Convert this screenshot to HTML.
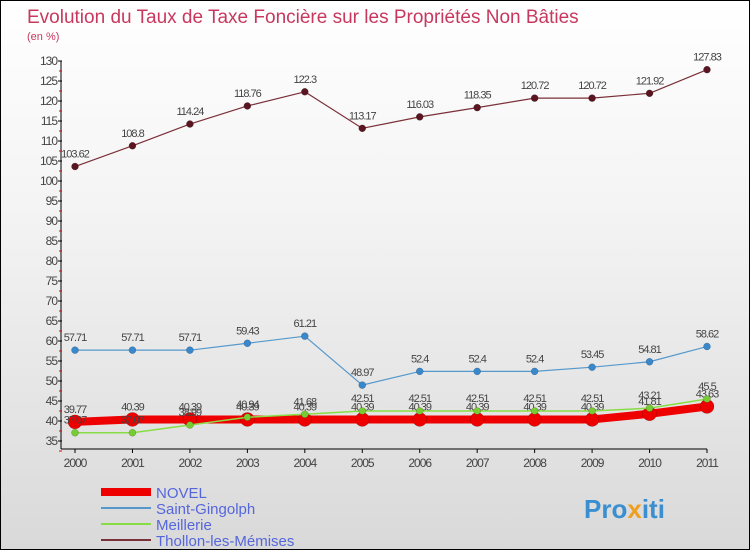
<!DOCTYPE html>
<html><head><meta charset="utf-8"><style>
body{margin:0;width:750px;height:550px;overflow:hidden;font-family:"Liberation Sans",sans-serif}
#wrap{position:relative;width:748px;height:548px;border:1px solid #000;background:linear-gradient(#fff 0%,#f3f3f3 40%,#d9d9d9 100%)}
</style></head><body>
<div id="wrap">
<svg id="chart" width="748" height="548" xmlns="http://www.w3.org/2000/svg">
<text x="26" y="22" font-size="19" fill="#c8385e">Evolution du Taux de Taxe Foncière sur les Propriétés Non Bâties</text>
<text x="26" y="39" font-size="11" fill="#c8385e">(en %)</text>
<g id="axes"></g><g id="series"></g><g id="legend"></g>
<text x="583" y="517" font-size="26" font-weight="bold" fill="#3b8fd0">Pro<tspan fill="#f0a020">x</tspan>iti</text>
</svg></div>
<script>
const years=[2000,2001,2002,2003,2004,2005,2006,2007,2008,2009,2010,2011];
const yTicks=[35,40,45,50,55,60,65,70,75,80,85,90,95,100,105,110,115,120,125,130];
const novel=[39.77,40.39,40.39,40.39,40.39,40.39,40.39,40.39,40.39,40.39,41.81,43.63];
const stGingolph=[57.71,57.71,57.71,59.43,61.21,48.97,52.4,52.4,52.4,53.45,54.81,58.62];
const meillerie=[37.07,37.07,38.99,40.94,41.68,42.51,42.51,42.51,42.51,42.51,43.21,45.5];
const thollon=[103.62,108.8,114.24,118.76,122.3,113.17,116.03,118.35,120.72,120.72,121.92,127.83];
const NS="http://www.w3.org/2000/svg";
const X=i=>74+i*(706-74)/11;
const Y=v=>60+(130-v)*4;
function mk(t,a,p){const e=document.createElementNS(NS,t);for(const k in a)e.setAttribute(k,a[k]);p.appendChild(e);return e;}
const ax=document.getElementById('axes');
let l=mk('line',{x1:60,y1:Y(130),x2:60,y2:448,stroke:'#000'},ax);


l=mk('line',{x1:60,y1:448,x2:X(11),y2:448,stroke:'#000'},ax);


yTicks.forEach(v=>{
 mk('line',{x1:57,y1:Y(v),x2:61,y2:Y(v),stroke:'#000'},ax);
 mk('line',{x1:58,y1:Y(v)+10,x2:61,y2:Y(v)+10,stroke:'#e00'},ax);
 const t=mk('text',{x:56,y:Y(v)+4,'font-size':12,'text-anchor':'end',fill:'#444','letter-spacing':'-1'},ax);
 t.textContent=v;
 
 
});
years.forEach((y,i)=>{
 mk('line',{x1:X(i),y1:448,x2:X(i),y2:452,stroke:'#000'},ax);
 const t=mk('text',{x:X(i),y:466,'font-size':12,'text-anchor':'middle',fill:'#444','letter-spacing':'-1'},ax);
 t.textContent=y;
 
 
});
const sg=document.getElementById('series');
function series(arr,color,w,r,dot,name){
 const g=mk('g',{},sg);
 
 
 mk('polyline',{points:arr.map((v,i)=>X(i)+','+Y(v)).join(' '),fill:'none',stroke:color,'stroke-width':w,'stroke-linejoin':'round'},g);
 arr.forEach((v,i)=>{
  const c=mk('circle',{cx:X(i),cy:Y(v),r:r,fill:dot,stroke:'rgba(0,0,0,0.3)','stroke-width':0.5},g);
  
  
  const t=mk('text',{x:X(i),y:Y(v)-9,'font-size':11,'text-anchor':'middle',fill:'#444','letter-spacing':'-1'},g);
  t.textContent=v;
  
  
 });
}
series(thollon,'#7a3038',1.2,3.5,'#5a1520','thollon-series');
series(stGingolph,'#5599cc',1.2,3.5,'#3a88cc','saint-gingolph-series');
series(novel,'#ee0000',8,7,'#ee0000','novel-series');
series(meillerie,'#88dd44',1.5,3.5,'#77cc33','meillerie-series');
const lg=document.getElementById('legend');
[['NOVEL','#ee0000',8],['Saint-Gingolph','#5599cc',2],['Meillerie','#88dd44',2],['Thollon-les-Mémises','#7a3038',2]].forEach((d,i)=>{
 const y=491+i*16;
 const g=mk('g',{},lg);
 
 
 mk('line',{x1:100,y1:y,x2:150,y2:y,stroke:d[1],'stroke-width':d[2]},g);
 const t=mk('text',{x:155,y:y+6,'font-size':15,fill:'#5566dd'},g);
 t.textContent=d[0];
});
</script>
</body></html>
